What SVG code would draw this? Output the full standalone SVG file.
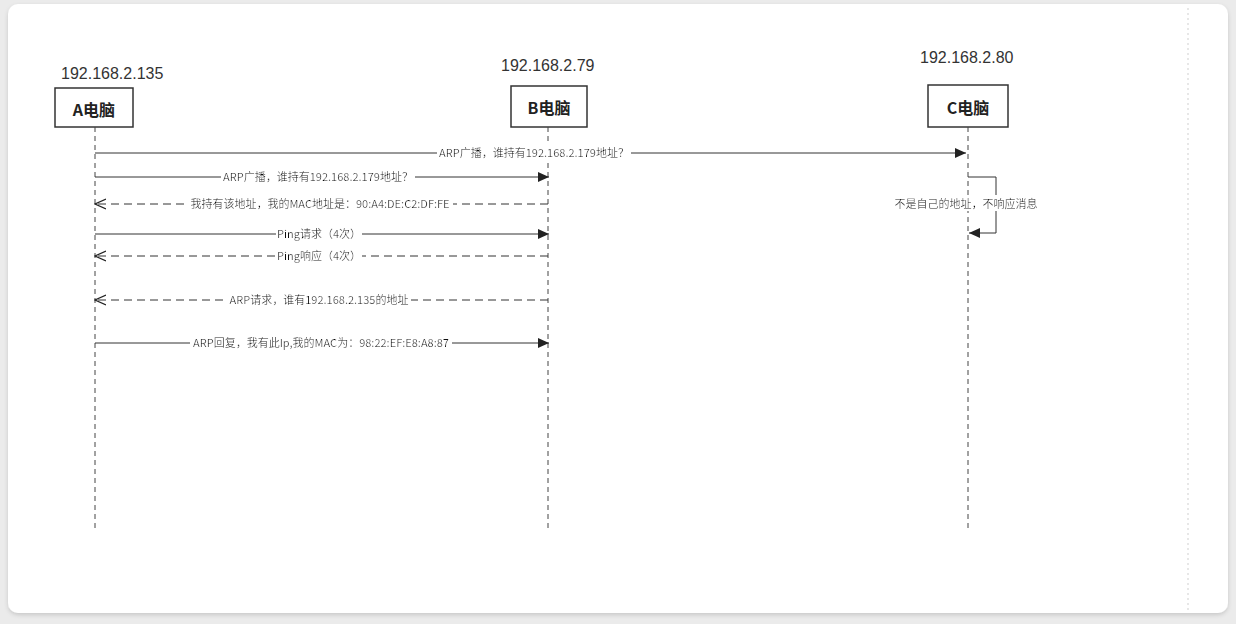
<svg xmlns="http://www.w3.org/2000/svg" width="1236" height="624" viewBox="0 0 1236 624">
<defs>
<filter id="sh" x="-5%" y="-5%" width="110%" height="110%"><feDropShadow dx="0" dy="2" stdDeviation="2" flood-color="#000" flood-opacity="0.15"/></filter>
<filter id="bg" x="-0.01" y="0" width="1.02" height="1"><feFlood flood-color="#fff"/><feMerge><feMergeNode/><feMergeNode in="SourceGraphic"/></feMerge></filter>
<marker id="fill" markerWidth="12" markerHeight="10" refX="11" refY="5" orient="auto" markerUnits="userSpaceOnUse"><path d="M0,0 L11,5 L0,10 Z" fill="#222"/></marker>
<marker id="open" markerWidth="12" markerHeight="12" refX="11" refY="6" orient="auto" markerUnits="userSpaceOnUse"><path d="M0,1 L11,6 L0,11" fill="none" stroke="#222" stroke-width="1.2"/></marker>
<style>
.ip{font-family:"Liberation Sans",Arial,sans-serif;font-size:16px;fill:#333}
.box{fill:#fff;stroke:#333;stroke-width:1.5}
.bl{font-family:"Noto Sans CJK SC","Liberation Sans",sans-serif;font-size:16px;font-weight:bold;fill:#222}
.life{stroke:#444;stroke-width:1;stroke-dasharray:5 4;fill:none}
.msg{stroke:#333;stroke-width:1;fill:none}
.sync{marker-end:url(#fill)}
.ret{stroke-dasharray:8 5;marker-end:url(#open)}
.lb{font-family:"Noto Sans CJK SC","Liberation Sans",sans-serif;font-size:11px;fill:#111;text-anchor:middle;filter:url(#bg)}
</style>
</defs>
<rect width="1236" height="624" fill="#ebebeb"/>
<rect x="8" y="4" width="1220" height="609" rx="10" fill="#fff" filter="url(#sh)"/>
<line x1="1188" y1="8" x2="1188" y2="610" stroke="#cfcfcf" stroke-width="1" stroke-dasharray="2 3"/>

<g id="nodeA">
<text class="ip" x="61" y="79">192.168.2.135</text>
<rect class="box" x="55" y="88" width="78" height="39"/>
<text class="bl" x="94" y="116" text-anchor="middle">A电脑</text>
<line class="life" x1="95" y1="127" x2="95" y2="530"/>
</g>
<g id="nodeB">
<text class="ip" x="501" y="71">192.168.2.79</text>
<rect class="box" x="511" y="86" width="76" height="41"/>
<text class="bl" x="549" y="114" text-anchor="middle">B电脑</text>
<line class="life" x1="548" y1="127" x2="548" y2="530"/>
</g>
<g id="nodeC">
<text class="ip" x="920" y="63">192.168.2.80</text>
<rect class="box" x="928" y="85" width="80" height="42"/>
<text class="bl" x="968" y="114" text-anchor="middle">C电脑</text>
<line class="life" x1="968" y1="127" x2="968" y2="530"/>
</g>

<g id="connectors">
<line class="msg sync" x1="95" y1="153" x2="966" y2="153"/>
<text class="lb" x="534" y="157">ARP广播，谁持有192.168.2.179地址？</text>
<line class="msg sync" x1="95" y1="177" x2="549" y2="177"/>
<text class="lb" x="318" y="181">ARP广播，谁持有192.168.2.179地址？</text>
<line class="msg ret" x1="548" y1="204" x2="95" y2="204"/>
<text class="lb" x="320" y="208">我持有该地址，我的MAC地址是：90:A4:DE:C2:DF:FE</text>
<line class="msg sync" x1="95" y1="234" x2="549" y2="234"/>
<text class="lb" x="319" y="238">Ping请求（4次）</text>
<line class="msg ret" x1="548" y1="256" x2="95" y2="256"/>
<text class="lb" x="319" y="260">Ping响应（4次）</text>
<line class="msg ret" x1="548" y1="300" x2="95" y2="300"/>
<text class="lb" x="319" y="304">ARP请求，谁有192.168.2.135的地址</text>
<line class="msg sync" x1="95" y1="343" x2="549" y2="343"/>
<text class="lb" x="321" y="347">ARP回复，我有此Ip,我的MAC为：98:22:EF:E8:A8:87</text>
<path class="msg sync" d="M968,177 H996 V233 H969"/>
<text class="lb" x="966" y="208">不是自己的地址，不响应消息</text>
</g>
</svg>
